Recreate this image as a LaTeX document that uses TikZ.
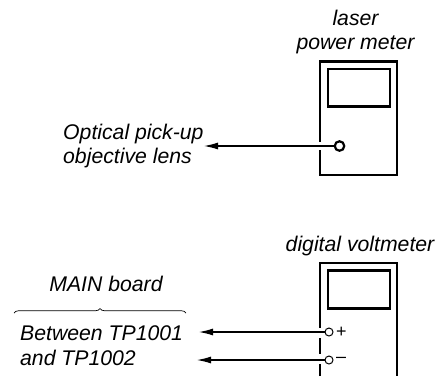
\documentclass[tikz,border=0pt]{standalone}
\usepackage{fontspec}
\setmainfont{Liberation Sans}
\usetikzlibrary{arrows.meta,decorations.pathreplacing}
\tikzset{
 lbl/.style={font=\itshape\fontsize{21.3}{25}\selectfont,inner sep=0pt,align=left},
 lblc/.style={lbl,align=center},
 thick box/.style={draw,line width=2.2bp},
 probe/.style={draw=black,line width=1.1bp,-{Latex[length=14bp,width=7bp]}},
 port/.style={circle,draw,fill=white,line width=2.2bp,minimum size=9.5bp,inner sep=0pt},
 vport/.style={circle,draw,fill=white,line width=1bp,minimum size=8bp,inner sep=0pt},
 sgn/.style={font=\fontsize{18}{18}\selectfont,inner sep=0pt},
}
\begin{document}
\begin{tikzpicture}[x=1bp,y=-1bp]
\useasboundingbox (0,0) rectangle (444,376);
\node[lblc] (lasert) at (355.5,32) {laser\\power meter};
\draw[thick box] (320,61.5) rectangle (397,175);
\draw[thick box] (328,69) rectangle (390,106.5);
\draw[white,line width=3bp] (320,142) -- (320,150);
\node[port] (p1) at (339.5,146) {};
\node[lbl,anchor=west] (optic) at (63,146) {Optical pick-up\\objective lens};
\coordinate (tip1) at (204,146);
\draw[probe] (p1) -- (tip1);
\node[lblc] (dv) at (360,246) {digital voltmeter};
\draw[thick box] (320,376) -- (320,263) -- (397,263) -- (397,376);
\draw[thick box] (328,270.5) rectangle (390,308.5);
\draw[white,line width=3bp] (320,328) -- (320,338);
\draw[white,line width=3bp] (320,354) -- (320,364);
\node[vport] (p2) at (329,332) {};
\node[vport] (p3) at (329,360) {};
\node[sgn,anchor=west] (plus) at (336,332) {+};
\node[sgn,anchor=west] (minus) at (336,360) {–};
\coordinate (tip2) at (199,332);
\coordinate (tip3) at (197,360);
\draw[probe] (p2) -- (tip2);
\draw[probe] (p3) -- (tip3);
\node[lbl] (main) at (106,284) {MAIN board};
\node[lbl,anchor=west] (between) at (20,346) {Between TP1001\\and TP1002};
\coordinate (bl) at (14,313);
\coordinate (br) at (186,313);
\draw[line width=0.7bp,decorate,decoration={brace,amplitude=4.5bp,aspect=0.5}] (bl) -- (br);
\end{tikzpicture}
\end{document}
